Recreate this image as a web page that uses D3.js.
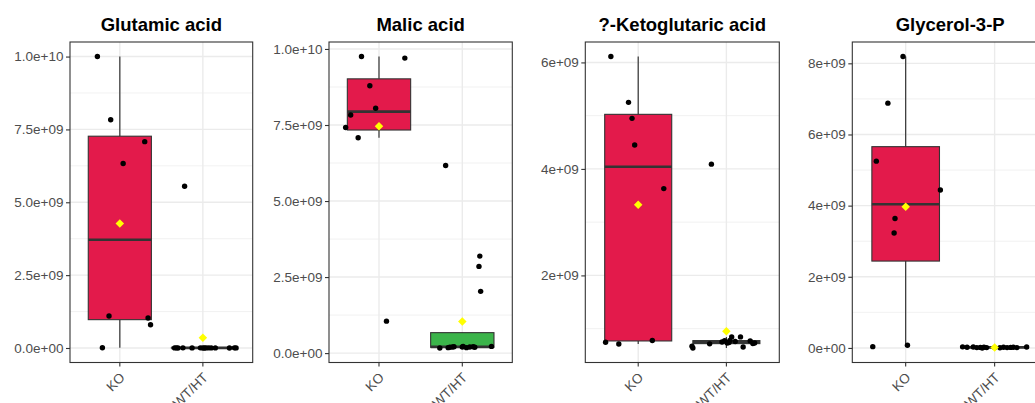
<!DOCTYPE html>
<html>
<head>
<meta charset="utf-8">
<script src="https://cdn.jsdelivr.net/npm/d3@7"></script>
<style>
  body { margin: 0; background: #fff; }
  svg { font-family: "Liberation Sans", Arial, sans-serif; display: block; }
</style>
</head>
<body>
<div id="container"></div>
<script>
// ---- data ----
const metabolites = ["Glutamic acid", "Malic acid", "?-Ketoglutaric acid", "Glycerol-3-P"];
const groups = ["KO", "WT/HT"];

const glutamicKO = [10.0e9, 7.83e9, 7.08e9, 6.33e9, 1.10e9, 1.03e9, 0.80e9, 0.01e9];
const glutamicKOJitter = [-0.27, -0.11, 0.30, 0.04, -0.13, 0.34, 0.37, -0.21];
const glutamicWT = [5.55e9, 0.003e9, 0.002e9, 0.004e9, 0.003e9, 0.005e9, 0.002e9, 0.003e9,
                    0.004e9, 0.003e9, 0.002e9, 0.005e9, 0.003e9, 0.004e9, 0.002e9, 0.003e9];
const glutamicWTJitter = [-0.22, -0.34, -0.30, -0.24, -0.13, -0.03, 0.0, 0.04, 0.07, 0.15, 0.32, 0.38, 0.40, -0.32, 0.02, 0.10];

const malicKO = [9.75e9, 9.70e9, 8.79e9, 8.05e9, 7.83e9, 7.42e9, 7.08e9, 1.05e9];
const malicKOJitter = [-0.21, 0.31, -0.11, -0.04, -0.34, -0.40, -0.25, 0.09];
const malicWT = [6.17e9, 3.19e9, 2.85e9, 2.03e9, 0.17e9, 0.18e9, 0.19e9, 0.20e9,
                 0.21e9, 0.22e9, 0.18e9, 0.20e9, 0.21e9, 0.19e9, 0.22e9, 0.20e9];
const malicWTJitter = [-0.20, 0.21, 0.20, 0.22, -0.27, -0.17, -0.15, -0.12, -0.10, 0.01, 0.05, 0.09, 0.13, 0.15, 0.35, 0.0];

const ketoKO = [6.11e9, 5.25e9, 4.95e9, 4.45e9, 3.63e9, 0.745e9, 0.713e9, 0.777e9];
const ketoKOJitter = [-0.31, -0.11, -0.07, -0.04, 0.29, -0.37, -0.22, 0.16];
const ketoWT = [4.09e9, 0.638e9, 0.67e9, 0.715e9, 0.775e9, 0.73e9, 0.78e9, 0.845e9,
                0.845e9, 0.656e9, 0.77e9, 0.72e9, 0.73e9, 0.74e9, 0.75e9, 0.76e9];
const ketoWTJitter = [-0.17, -0.38, -0.39, -0.19, -0.02, 0.01, 0.04, 0.06, 0.16, 0.19, 0.27, 0.30, 0.32, 0.03, -0.05, 0.10];

const glycerolKO = [8.19e9, 6.88e9, 5.25e9, 4.44e9, 3.64e9, 3.23e9, 0.036e9, 0.076e9];
const glycerolKOJitter = [-0.03, -0.20, -0.33, 0.39, -0.12, -0.13, -0.37, 0.02];
const glycerolWT = [0.03e9, 0.02e9, 0.025e9, 0.01e9, 0.015e9, 0.0, 0.02e9, 0.01e9,
                    0.005e9, 0.02e9, 0.01e9, 0.015e9, 0.02e9, 0.01e9, 0.025e9, 0.01e9];
const glycerolWTJitter = [-0.36, -0.31, -0.24, -0.20, -0.16, -0.14, -0.12, -0.09, 0.06, 0.10, 0.14, 0.18, 0.21, 0.25, 0.36, 0.0];

const tenTicks = [0, 2.5e9, 5e9, 7.5e9, 1e10];
const tenTickLabels = ["0.0e+00", "2.5e+09", "5.0e+09", "7.5e+09", "1.0e+10"];
const ketoTicks = [2e9, 4e9, 6e9];
const ketoTickLabels = ["2e+09", "4e+09", "6e+09"];
const glycerolTicks = [0, 2e9, 4e9, 6e9, 8e9];
const glycerolTickLabels = ["0e+00", "2e+09", "4e+09", "6e+09", "8e+09"];

// ---- layout ----
const w = 1035, h = 403;
const plotTop = 42, plotBottom = 362.5;
const panelLeft = [70, 329, 585.3, 852.3];
const panelRight = [252.7, 512.3, 779.3, 1048];
const groupFill = { "KO": "#E31A4B", "WT/HT": "#3BB44A" };

const panels = [
  { values: [glutamicKO, glutamicWT], jitter: [glutamicKOJitter, glutamicWTJitter], ticks: tenTicks, labels: tenTickLabels },
  { values: [malicKO, malicWT], jitter: [malicKOJitter, malicWTJitter], ticks: tenTicks, labels: tenTickLabels },
  { values: [ketoKO, ketoWT], jitter: [ketoKOJitter, ketoWTJitter], ticks: ketoTicks, labels: ketoTickLabels },
  { values: [glycerolKO, glycerolWT], jitter: [glycerolKOJitter, glycerolWTJitter], ticks: glycerolTicks, labels: glycerolTickLabels }
];

const svg = d3.select('#container').append('svg')
  .attr('width', w)
  .attr('height', h);

const boxStats = vals => {
  const s = vals.slice().sort(d3.ascending);
  const q1 = d3.quantile(s, 0.25), med = d3.quantile(s, 0.5), q3 = d3.quantile(s, 0.75);
  const iqr = q3 - q1;
  const lo = d3.min(s.filter(v => v >= q1 - 1.5 * iqr));
  const hi = d3.max(s.filter(v => v <= q3 + 1.5 * iqr));
  return { q1, med, q3, lo, hi };
};

panels.forEach((p, i) => {
  const left = panelLeft[i], right = panelRight[i];
  const g = svg.append('g');

  const all = p.values.flat();
  const [mn, mx] = d3.extent(all);
  const pad = (mx - mn) * 0.05;

  const yScale = d3.scaleLinear().domain([mn - pad, mx + pad]).range([plotBottom, plotTop]);
  const xScale = d3.scalePoint().domain(groups).range([left, right]).padding(0.6);
  const step = xScale.step();

  // minor breaks: midpoints between major ticks
  const tstep = p.ticks[1] - p.ticks[0];
  const minors = d3.range(p.ticks[0] - tstep / 2, mx + pad, tstep)
    .filter(v => v >= mn - pad && v <= mx + pad);

  const clipId = 'clip' + i;
  svg.append('clipPath').attr('id', clipId)
    .append('rect').attr('x', left).attr('y', plotTop).attr('width', right - left).attr('height', plotBottom - plotTop);

  const plot = g.append('g').attr('clip-path', `url(#${clipId})`);

  plot.selectAll('.minor').data(minors).enter().append('line')
    .attr('x1', left).attr('x2', right)
    .attr('y1', d => yScale(d)).attr('y2', d => yScale(d))
    .attr('stroke', '#EBEBEB').attr('stroke-width', 0.7);
  plot.selectAll('.major').data(p.ticks).enter().append('line')
    .attr('x1', left).attr('x2', right)
    .attr('y1', d => yScale(d)).attr('y2', d => yScale(d))
    .attr('stroke', '#EBEBEB').attr('stroke-width', 1.4);
  plot.selectAll('.vmajor').data(groups).enter().append('line')
    .attr('x1', d => xScale(d)).attr('x2', d => xScale(d))
    .attr('y1', plotTop).attr('y2', plotBottom)
    .attr('stroke', '#EBEBEB').attr('stroke-width', 1.4);

  const boxW = step * 0.76;
  groups.forEach((grp, gi) => {
    const st = boxStats(p.values[gi]);
    const cx = xScale(grp);
    plot.append('line')
      .attr('x1', cx).attr('x2', cx)
      .attr('y1', yScale(st.hi)).attr('y2', yScale(st.q3))
      .attr('stroke', '#333').attr('stroke-width', 1.2);
    plot.append('line')
      .attr('x1', cx).attr('x2', cx)
      .attr('y1', yScale(st.q1)).attr('y2', yScale(st.lo))
      .attr('stroke', '#333').attr('stroke-width', 1.2);
    plot.append('rect')
      .attr('x', cx - boxW / 2).attr('width', boxW)
      .attr('y', yScale(st.q3)).attr('height', yScale(st.q1) - yScale(st.q3))
      .attr('fill', groupFill[grp]).attr('stroke', '#333').attr('stroke-width', 1.1);
    plot.append('line')
      .attr('x1', cx - boxW / 2).attr('x2', cx + boxW / 2)
      .attr('y1', yScale(st.med)).attr('y2', yScale(st.med))
      .attr('stroke', '#333').attr('stroke-width', 2.6);
  });

  groups.forEach((grp, gi) => {
    const cx = xScale(grp);
    plot.selectAll('.pt' + gi).data(p.values[gi]).enter().append('circle')
      .attr('cx', (d, j) => cx + p.jitter[gi][j] * step)
      .attr('cy', d => yScale(d))
      .attr('r', 2.7)
      .attr('fill', '#000');
  });

  groups.forEach((grp, gi) => {
    const m = d3.mean(p.values[gi]);
    plot.append('path')
      .attr('d', d3.symbol(d3.symbolSquare, 36)())
      .attr('transform', `translate(${xScale(grp)},${yScale(m)}) rotate(45)`)
      .attr('fill', '#FFFF00');
  });

  g.append('rect')
    .attr('x', left).attr('y', plotTop)
    .attr('width', right - left).attr('height', plotBottom - plotTop)
    .attr('fill', 'none').attr('stroke', '#333').attr('stroke-width', 1.1);

  const yAxis = d3.axisLeft(yScale)
    .tickValues(p.ticks)
    .tickFormat((d, k) => p.labels[k])
    .tickSize(4)
    .tickPadding(2.5);
  const ya = g.append('g').attr('transform', `translate(${left},0)`).call(yAxis);
  ya.select('.domain').remove();
  ya.selectAll('line').attr('stroke', '#333').attr('stroke-width', 1.1);
  ya.selectAll('text').attr('fill', '#4D4D4D').style('font-size', '13.5px');

  const xa = g.append('g');
  xa.selectAll('line').data(groups).enter().append('line')
    .attr('x1', d => xScale(d)).attr('x2', d => xScale(d))
    .attr('y1', plotBottom).attr('y2', plotBottom + 4)
    .attr('stroke', '#333').attr('stroke-width', 1.1);
  xa.selectAll('text').data(groups).enter().append('text')
    .attr('transform', d => `translate(${xScale(d) - 1},${plotBottom + 9}) rotate(-45)`)
    .attr('text-anchor', 'end')
    .attr('dy', '0.72em')
    .attr('fill', '#4D4D4D')
    .style('font-size', '13.5px')
    .text(d => d);

  g.append('text')
    .attr('x', (left + right) / 2)
    .attr('y', 30.5)
    .attr('text-anchor', 'middle')
    .attr('font-weight', 'bold')
    .style('font-size', '18.5px')
    .attr('fill', '#000')
    .text(metabolites[i]);
});
</script>
</body>
</html>
